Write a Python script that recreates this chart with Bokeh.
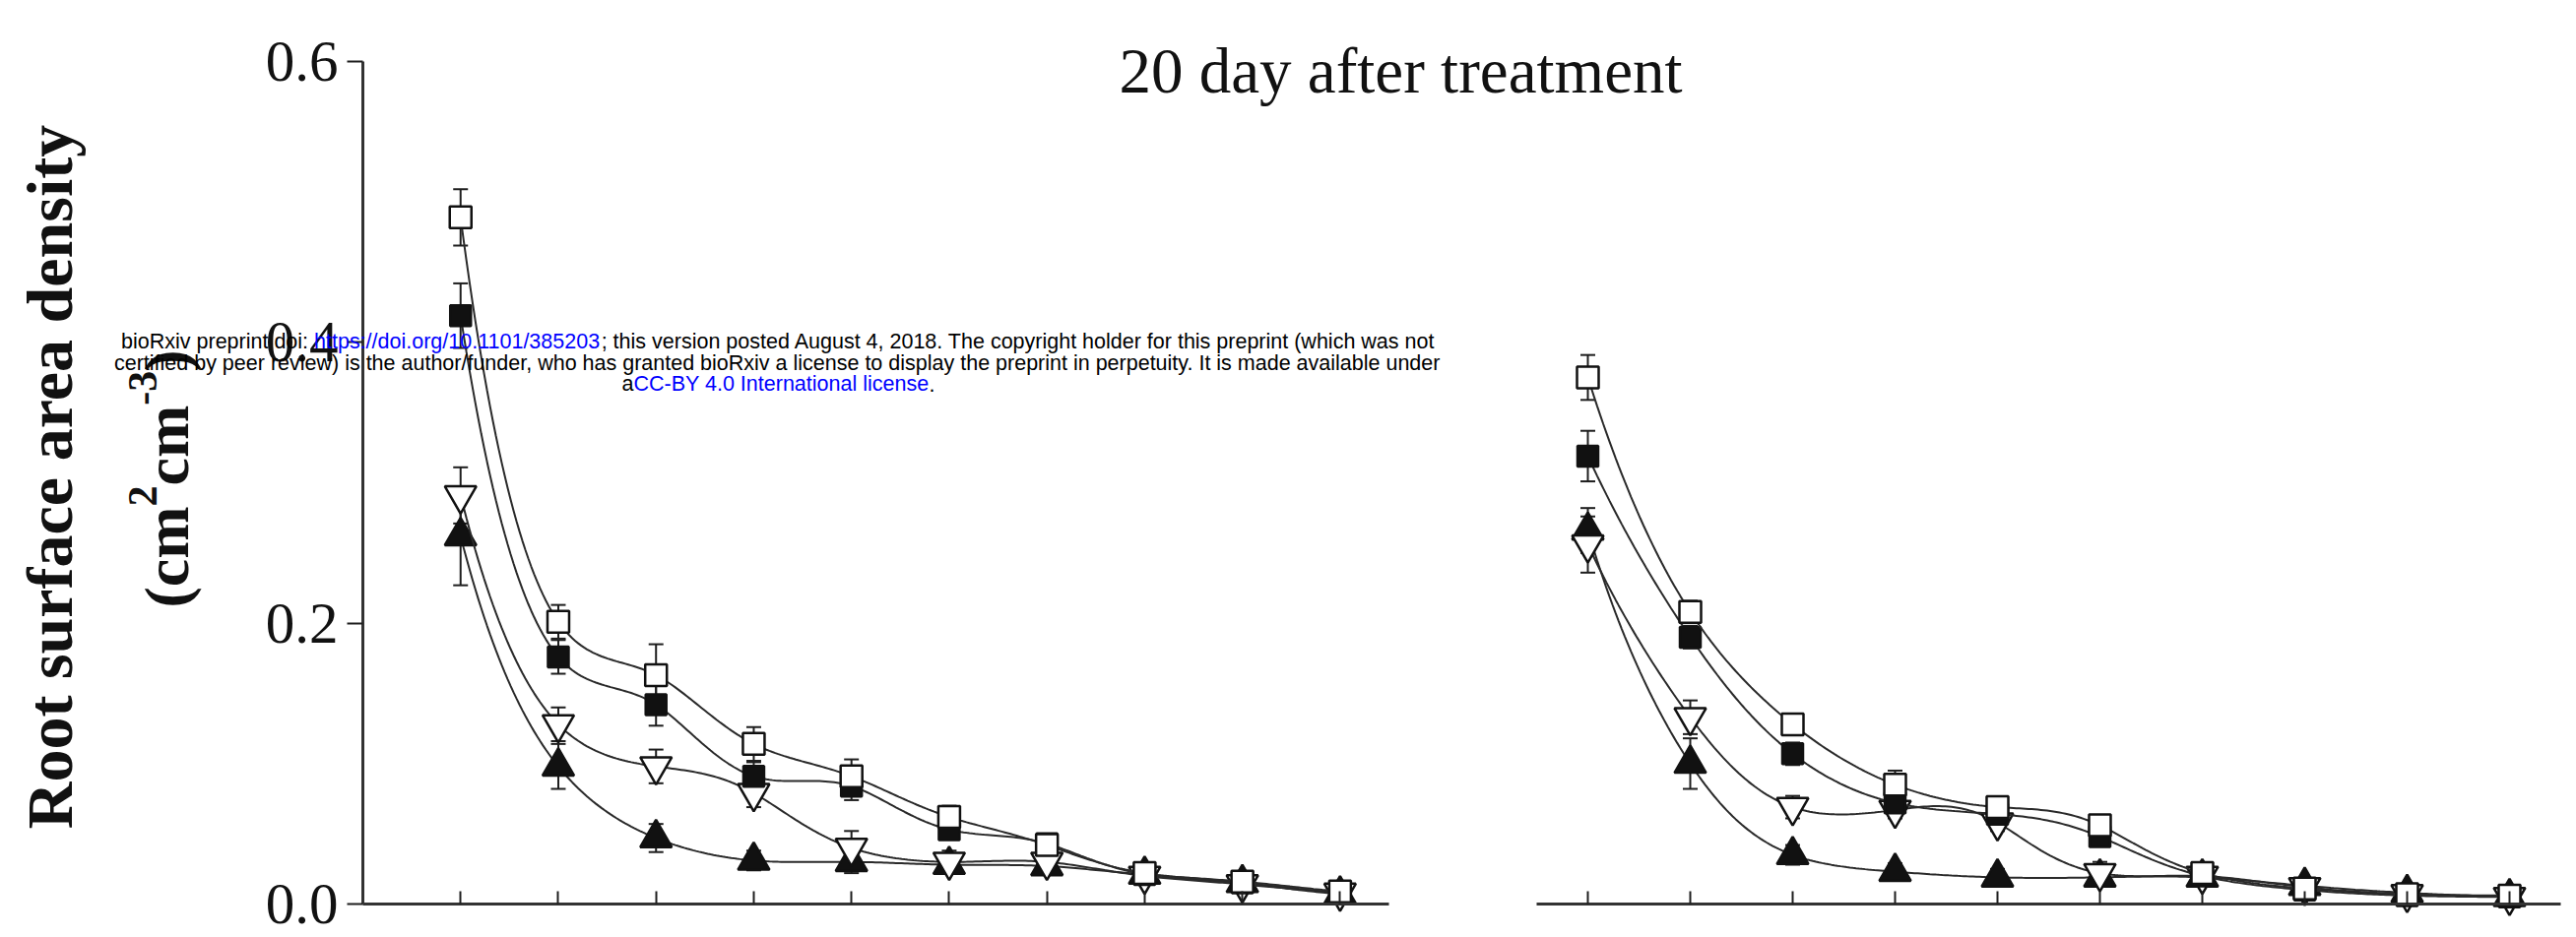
import numpy as np
from bokeh.plotting import figure
from bokeh.models import (ColumnDataSource, Whisker, TeeHead, Label, FixedTicker,
                          PrintfTickFormatter, LinearAxis, Range1d)
from bokeh.embed import file_html
from bokeh.resources import INLINE

# ---------------- data ----------------
layer = [1, 2, 3, 4, 5, 6, 7, 8, 9, 10]

# left panel
left_open_sq = [0.489, 0.201, 0.163, 0.114, 0.091, 0.062, 0.042, 0.022, 0.016, 0.009]
left_open_sq_err = [0.020, 0.012, 0.022, 0.012, 0.012, 0.008, 0.006, 0.005, 0.004, 0.003]
left_fill_sq = [0.419, 0.176, 0.142, 0.091, 0.084, 0.053, 0.043, 0.021, 0.015, 0.008]
left_fill_sq_err = [0.023, 0.012, 0.015, 0.010, 0.010, 0.007, 0.005, 0.004, 0.004, 0.003]
left_open_tri = [0.291, 0.128, 0.098, 0.079, 0.040, 0.030, 0.030, 0.020, 0.014, 0.008]
left_open_tri_err = [0.020, 0.012, 0.012, 0.010, 0.012, 0.008, 0.006, 0.005, 0.004, 0.003]
left_fill_tri = [0.262, 0.098, 0.047, 0.031, 0.030, 0.028, 0.027, 0.021, 0.015, 0.007]
left_fill_tri_err = [0.035, 0.016, 0.010, 0.007, 0.008, 0.006, 0.005, 0.004, 0.004, 0.003]

# right panel
right_open_sq = [0.375, 0.208, 0.128, 0.085, 0.069, 0.056, 0.022, 0.011, 0.007, 0.006]
right_open_sq_err = [0.016, 0.008, 0.006, 0.010, 0.006, 0.006, 0.005, 0.004, 0.003, 0.003]
right_fill_sq = [0.319, 0.190, 0.107, 0.072, 0.064, 0.048, 0.020, 0.010, 0.006, 0.005]
right_fill_sq_err = [0.018, 0.008, 0.008, 0.006, 0.006, 0.006, 0.005, 0.004, 0.003, 0.003]
right_open_tri = [0.256, 0.133, 0.069, 0.067, 0.058, 0.022, 0.020, 0.012, 0.007, 0.005]
right_open_tri_err = [0.020, 0.012, 0.008, 0.006, 0.006, 0.008, 0.005, 0.004, 0.003, 0.003]
right_fill_tri = [0.266, 0.100, 0.035, 0.023, 0.019, 0.019, 0.019, 0.013, 0.008, 0.005]
right_fill_tri_err = [0.016, 0.018, 0.007, 0.006, 0.006, 0.006, 0.005, 0.004, 0.003, 0.003]

y_ticks = [0.0, 0.2, 0.4, 0.6]
title_text = "20 day after treatment"
ylabel_line1 = "Root surface area density"

# ---------------- layout constants (canvas pixels) ----------------
W, H = 2616, 952
L_X0 = 368          # x of left panel x=0 (y-axis line)
L_X1 = 1410         # x of left panel x=10.5
R_X0 = 1560         # x of right panel x=0.5
R_X1 = 2600         # x of right panel x=10.5
Y0 = 918            # y of value 0
Y6 = 62             # y of value 0.6
PX_L = (L_X1 - L_X0) / 10.5
PX_R = (R_X1 - R_X0) / 10.0
PX_Y = (Y0 - Y6) / 0.6
INK = "#1e1e1e"
BASE_SHIFT = 0.333  # empirical shift (in em) of Bokeh's alphabetic baseline


def smooth(x, y, n=300):
    """natural cubic spline through the points, in log space"""
    x = np.asarray(x, float)
    ly = np.log(np.asarray(y, float))
    N = len(x)
    h = np.diff(x)
    A = np.zeros((N, N))
    b = np.zeros(N)
    A[0, 0] = A[-1, -1] = 1.0
    for i in range(1, N - 1):
        A[i, i - 1] = h[i - 1]
        A[i, i] = 2 * (h[i - 1] + h[i])
        A[i, i + 1] = h[i]
        b[i] = 6 * ((ly[i + 1] - ly[i]) / h[i] - (ly[i] - ly[i - 1]) / h[i - 1])
    M = np.linalg.solve(A, b)
    xs = np.linspace(x[0], x[-1], n)
    idx = np.clip(np.searchsorted(x, xs) - 1, 0, N - 2)
    hi = h[idx]
    t0 = x[idx + 1] - xs
    t1 = xs - x[idx]
    s = (M[idx] * t0**3 / (6 * hi) + M[idx + 1] * t1**3 / (6 * hi)
         + (ly[idx] / hi - M[idx] * hi / 6) * t0 + (ly[idx + 1] / hi - M[idx + 1] * hi / 6) * t1)
    return xs, np.exp(s)


p = figure(width=W, height=H,
           x_range=Range1d(-L_X0 / PX_L, (W - L_X0) / PX_L),
           y_range=Range1d((Y0 - H) / PX_Y, Y0 / PX_Y),
           min_border_left=0, min_border_right=0, min_border_top=0, min_border_bottom=0,
           output_backend="svg", toolbar_location=None)
p.extra_x_ranges = {"right": Range1d(0.5 - R_X0 / PX_R, 0.5 + (W - R_X0) / PX_R)}
p.xgrid.visible = False
p.ygrid.visible = False
p.outline_line_color = None


def style_x_axis(ax, lo, hi):
    ax.fixed_location = 0
    ax.bounds = (lo, hi)
    ax.ticker = FixedTicker(ticks=layer)
    ax.major_label_overrides = {v: "" for v in layer}
    ax.major_label_standoff = 0
    ax.major_tick_in = 13
    ax.major_tick_out = 0
    ax.minor_tick_line_color = None
    ax.major_tick_line_width = 2
    ax.major_tick_line_color = INK
    ax.axis_line_width = 3
    ax.axis_line_color = "#333333"


style_x_axis(p.xaxis[0], 0, 10.5)
ax_r = LinearAxis(x_range_name="right")
style_x_axis(ax_r, 0.5, 10.5)
p.add_layout(ax_r, "below")

ya = p.yaxis[0]
ya.fixed_location = 0
ya.bounds = (0, 0.6)
ya.ticker = FixedTicker(ticks=y_ticks)
ya.formatter = PrintfTickFormatter(format="%.1f")
ya.major_label_text_font = "Liberation Serif"
ya.major_label_text_font_size = "59px"
ya.major_label_text_color = "#111111"
ya.major_tick_out = 16
ya.major_tick_in = 0
ya.major_tick_line_width = 2
ya.major_tick_line_color = INK
ya.minor_tick_line_color = None
ya.major_label_standoff = 9
ya.axis_line_width = 3
ya.axis_line_color = "#333333"


def draw_series(vals, errs, marker, size, fill, rng):
    src = ColumnDataSource(dict(x=layer, y=vals,
                                upper=[v + e for v, e in zip(vals, errs)],
                                lower=[v - e for v, e in zip(vals, errs)]))
    w = Whisker(base="x", upper="upper", lower="lower", source=src,
                line_color=INK, line_width=2, x_range_name=rng,
                upper_head=TeeHead(size=15, line_color=INK, line_width=2),
                lower_head=TeeHead(size=15, line_color=INK, line_width=2))
    p.add_layout(w)
    xs, ys = smooth(layer, vals)
    p.line(xs, ys, line_color="#2a2a2a", line_width=2, x_range_name=rng)
    p.scatter("x", "y", source=src, marker=marker, size=size, x_range_name=rng,
              fill_color=fill, line_color="#111111", line_width=2.5)


def add_panel(rng, sq_o, sq_oe, sq_f, sq_fe, tr_o, tr_oe, tr_f, tr_fe):
    draw_series(tr_f, tr_fe, "triangle", 32, "#111111", rng)
    draw_series(tr_o, tr_oe, "inverted_triangle", 32, "white", rng)
    draw_series(sq_f, sq_fe, "square", 21, "#111111", rng)
    draw_series(sq_o, sq_oe, "square", 22, "white", rng)


add_panel("default", left_open_sq, left_open_sq_err, left_fill_sq, left_fill_sq_err,
          left_open_tri, left_open_tri_err, left_fill_tri, left_fill_tri_err)
add_panel("right", right_open_sq, right_open_sq_err, right_fill_sq, right_fill_sq_err,
          right_open_tri, right_open_tri_err, right_fill_tri, right_fill_tri_err)


# ---------------- text annotations (canvas pixels -> data units) ----------------
def dx(cx):
    return (cx - L_X0) / PX_L


def dy(cy):
    return (Y0 - cy) / PX_Y


# title (baseline at y=93)
T_FS = 65
p.add_layout(Label(x=dx(1422), y=dy(93 - BASE_SHIFT * T_FS), text=title_text,
                   text_font="Liberation Serif", text_font_size=f"{T_FS}px",
                   text_color="#111111", text_align="center", text_baseline="alphabetic"))

# y label line 1 (rotated, baseline at x=70)
Y1_FS = 66
p.add_layout(Label(x=dx(72 - BASE_SHIFT * Y1_FS), y=dy(484), text=ylabel_line1, angle=np.pi / 2,
                   text_font="Liberation Serif", text_font_style="bold",
                   text_font_size=f"{Y1_FS}px", text_color="#111111", text_align="center",
                   text_baseline="alphabetic"))

# y label line 2 : (cm2cm-3) with superscripts
TB = {"(": 333, ")": 333, "c": 444, "m": 833, "2": 500, "3": 500, "-": 333}
F_MAIN, F_SUP = 64, 42
pieces = [("(cm", False), ("2", True), ("cm", False), ("-3", True), (")", False)]
ypos = 617.0
for txt, sup in pieces:
    fs = F_SUP if sup else F_MAIN
    base_x = 158 if sup else 190
    p.add_layout(Label(x=dx(base_x - BASE_SHIFT * fs), y=dy(ypos), text=txt, angle=np.pi / 2,
                       text_font="Liberation Serif", text_font_style="bold",
                       text_font_size=f"{fs}px", text_color="#111111",
                       text_align="left", text_baseline="alphabetic"))
    ypos -= sum(TB[c] for c in txt) / 1000 * fs

# bioRxiv watermark
AW = {" ": 278, "(": 333, ")": 333, ",": 278, "-": 333, ".": 278, "/": 278, ":": 278,
      ";": 278, "A": 667, "B": 667, "C": 722, "I": 278, "R": 722, "T": 611, "Y": 667,
      "a": 556, "b": 556, "c": 500, "d": 556, "e": 556, "f": 278, "g": 556, "h": 556,
      "i": 222, "j": 222, "k": 500, "l": 222, "m": 833, "n": 556, "o": 556, "p": 556,
      "q": 556, "r": 333, "s": 500, "t": 278, "u": 556, "v": 500, "w": 722, "x": 500,
      "y": 500, "z": 500}
for dgt in "0123456789":
    AW[dgt] = 556
WM_FS = 21.5
BLUE = "#0000ff"
wm_lines = [
    (354, [("bioRxiv preprint doi: ", "black"), ("https://doi.org/10.1101/385203", BLUE),
           ("; this version posted August 4, 2018. The copyright holder for this preprint (which was not", "black")]),
    (375.5, [("certified by peer review) is the author/funder, who has granted bioRxiv a license to display the preprint in perpetuity. It is made available under", "black")]),
    (397, [("a", "black"), ("CC-BY 4.0 International license", BLUE), (".", "black")]),
]


def wid(s):
    return sum(AW.get(c, 556) for c in s) / 1000 * WM_FS


for base_y, segs in wm_lines:
    total = sum(wid(s) for s, _ in segs)
    x0 = 790 - total / 2
    for s, col in segs:
        p.add_layout(Label(x=dx(x0), y=dy(base_y - BASE_SHIFT * WM_FS), text=s,
                           text_font="Liberation Sans", text_font_size=f"{WM_FS}px",
                           text_color=col, text_align="left", text_baseline="alphabetic",
                           level="overlay"))
        x0 += wid(s)

with open("out.html", "w") as f:
    f.write(file_html(p, INLINE))
